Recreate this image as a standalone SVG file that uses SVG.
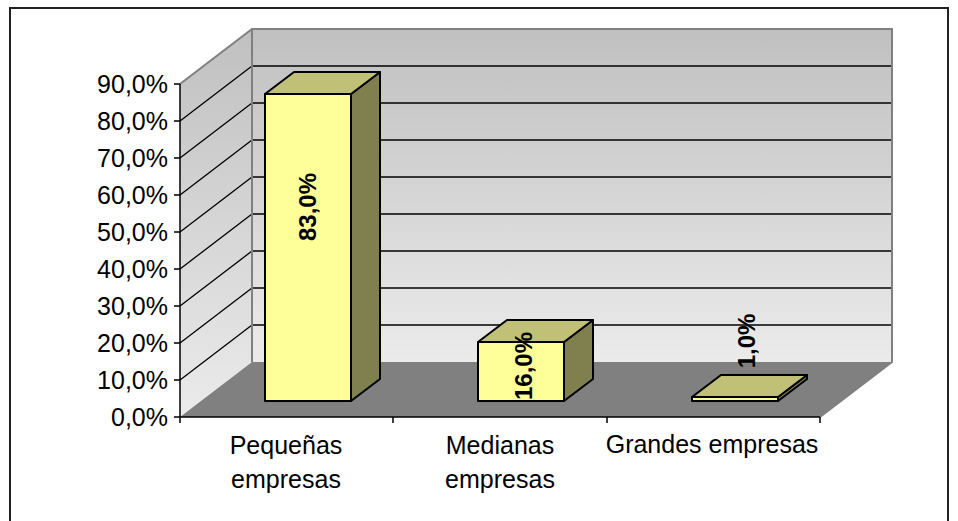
<svg xmlns="http://www.w3.org/2000/svg" width="958" height="521" viewBox="0 0 958 521">
<defs>
<linearGradient id="wall" x1="0" y1="0" x2="0" y2="1">
<stop offset="0" stop-color="#c0c0c0"/>
<stop offset="1" stop-color="#ebebeb"/>
</linearGradient>
<linearGradient id="side" gradientUnits="userSpaceOnUse" x1="0" y1="29" x2="0" y2="417">
<stop offset="0" stop-color="#c0c0c0"/>
<stop offset="1" stop-color="#ebebeb"/>
</linearGradient>
</defs>
<style>
.grid{stroke:#000;stroke-width:1.3;fill:none}
.edge{stroke:#808080;stroke-width:2;fill:none}
.axis{stroke:#000;stroke-width:1.5;fill:none}
.front{fill:#ffff99;stroke:#000;stroke-width:2;stroke-linejoin:round}
.top{fill:#c0c077;stroke:#000;stroke-width:2;stroke-linejoin:round}
.rside{fill:#80804f;stroke:#000;stroke-width:2;stroke-linejoin:round}
.ylab{font-family:"Liberation Sans",Arial,sans-serif;font-size:25px;fill:#000;text-anchor:end}
.xlab{font-family:"Liberation Sans",Arial,sans-serif;font-size:25px;fill:#000;text-anchor:middle}
.val{font-family:"Liberation Sans",Arial,sans-serif;font-size:24px;font-weight:bold;fill:#000;text-anchor:middle}
</style>
<rect x="0" y="0" width="958" height="521" fill="#fff"/>
<path d="M10,521 V8 H948 V521" fill="none" stroke="#222" stroke-width="2"/>

<g id="walls">
<rect x="252" y="29" width="640" height="333" fill="url(#wall)"/>
<polygon points="180,84 252,29 252,362 180,417" fill="url(#side)"/>
<polygon points="180,417 252,362 892,362 820,417" fill="#808080"/>
</g>

<g id="gridlines">
<line class="grid" x1="252" y1="66" x2="892" y2="66"/>
<line class="grid" x1="252" y1="103" x2="892" y2="103"/>
<line class="grid" x1="252" y1="140" x2="892" y2="140"/>
<line class="grid" x1="252" y1="177" x2="892" y2="177"/>
<line class="grid" x1="252" y1="214" x2="892" y2="214"/>
<line class="grid" x1="252" y1="251" x2="892" y2="251"/>
<line class="grid" x1="252" y1="288" x2="892" y2="288"/>
<line class="grid" x1="252" y1="325" x2="892" y2="325"/>
<line class="grid" x1="180" y1="121" x2="252" y2="66"/>
<line class="grid" x1="180" y1="158" x2="252" y2="103"/>
<line class="grid" x1="180" y1="195" x2="252" y2="140"/>
<line class="grid" x1="180" y1="232" x2="252" y2="177"/>
<line class="grid" x1="180" y1="269" x2="252" y2="214"/>
<line class="grid" x1="180" y1="306" x2="252" y2="251"/>
<line class="grid" x1="180" y1="343" x2="252" y2="288"/>
<line class="grid" x1="180" y1="380" x2="252" y2="325"/>
<path class="edge" d="M180,84 L252,29 H892 V362 L820,417"/>
<line class="edge" x1="252" y1="29" x2="252" y2="362"/>
</g>

<g id="axes">
<line class="axis" x1="180" y1="84" x2="180" y2="417"/>
<line class="axis" x1="180" y1="417" x2="820" y2="417"/>
<path class="axis" d="M174,84H180M174,121H180M174,158H180M174,195H180M174,232H180M174,269H180M174,306H180M174,343H180M174,380H180M174,417H180"/>
<path class="axis" d="M180,417V423M393,417V423M607,417V423M820,417V423"/>
<text class="ylab" x="168" y="93">90,0%</text>
<text class="ylab" x="168" y="130">80,0%</text>
<text class="ylab" x="168" y="167">70,0%</text>
<text class="ylab" x="168" y="204">60,0%</text>
<text class="ylab" x="168" y="241">50,0%</text>
<text class="ylab" x="168" y="278">40,0%</text>
<text class="ylab" x="168" y="315">30,0%</text>
<text class="ylab" x="168" y="352">20,0%</text>
<text class="ylab" x="168" y="389">10,0%</text>
<text class="ylab" x="168" y="426">0,0%</text>
<text class="xlab" x="286" y="454">Pequeñas</text>
<text class="xlab" x="286" y="488">empresas</text>
<text class="xlab" x="500" y="454">Medianas</text>
<text class="xlab" x="500" y="488">empresas</text>
<text class="xlab" x="712" y="453">Grandes empresas</text>
</g>

<g id="bar-pequenas">
<polygon class="rside" points="351,94 380,72 380,379 351,401"/>
<polygon class="top" points="265,94 294,72 380,72 351,94"/>
<rect class="front" x="265" y="94" width="86" height="307"/>
<text class="val" transform="translate(316,207) rotate(-90)">83,0%</text>
</g>

<g id="bar-medianas">
<polygon class="rside" points="564,342 593,320 593,379 564,401"/>
<polygon class="top" points="478,342 507,320 593,320 564,342"/>
<rect class="front" x="478" y="342" width="86" height="59"/>
<text class="val" transform="translate(532,366) rotate(-90)">16,0%</text>
</g>

<g id="bar-grandes">
<polygon class="rside" points="778,397 807,375 807,379 778,401"/>
<polygon class="top" points="692,397 721,375 807,375 778,397"/>
<rect class="front" x="692" y="397" width="86" height="4"/>
<text class="val" transform="translate(755,341) rotate(-90)">1,0%</text>
</g>
</svg>
